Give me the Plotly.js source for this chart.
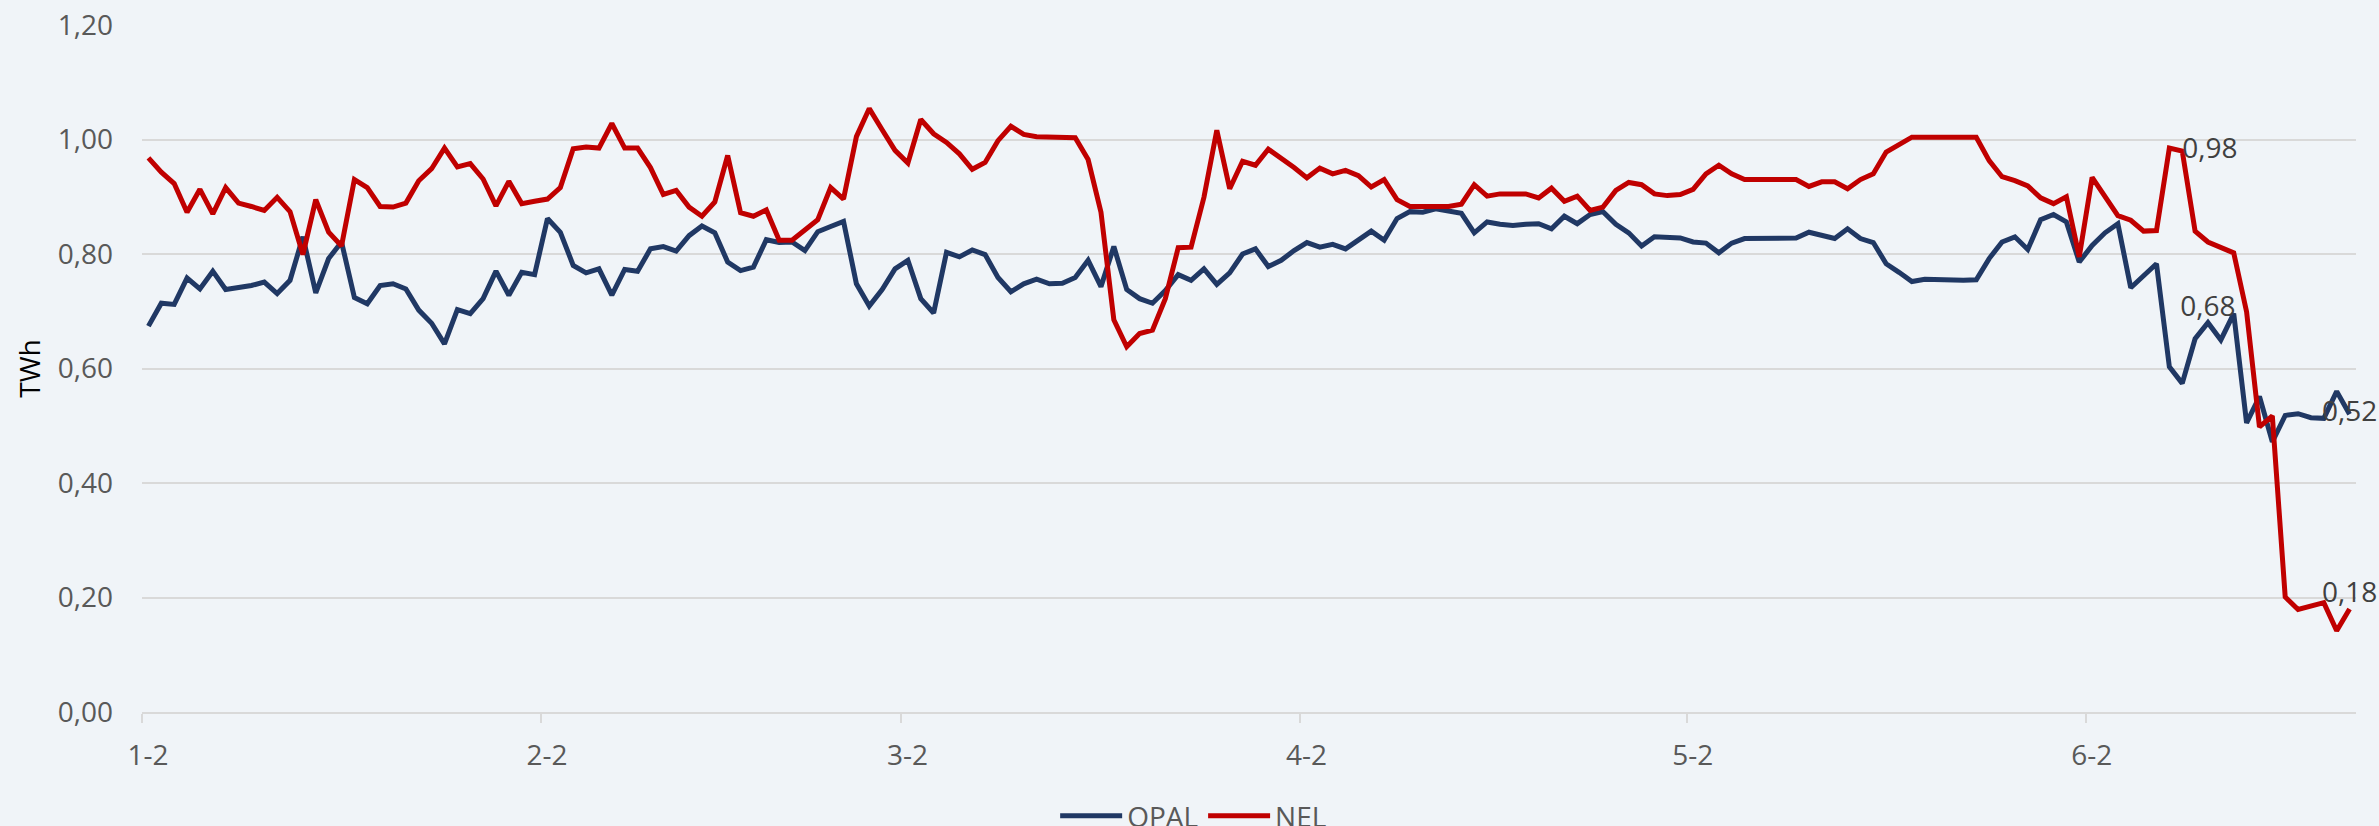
<!DOCTYPE html>
<html>
<head>
<meta charset="utf-8">
<script src="https://cdn.plot.ly/plotly-3.0.1.min.js"></script>
<style>
  html, body { margin: 0; padding: 0; background: #F0F4F8; }
  #chart { width: 2379px; height: 826px; }
</style>
</head>
<body>
<div id="chart"></div>
<script>
// ---- data (daily values, TWh) ----
const startDate = '2023-01-02';
const tickDates = ['2023-01-02', '2023-02-02', '2023-03-02', '2023-04-02', '2023-05-02', '2023-06-02'];
const tickLabels = ['1-2', '2-2', '3-2', '4-2', '5-2', '6-2'];
const seriesNames = ['OPAL', 'NEL'];

const OPAL = [
  0.674, 0.714, 0.712, 0.758, 0.739, 0.770, 0.738, 0.741, 0.745, 0.751,
  0.731, 0.754, 0.830, 0.732, 0.792, 0.821, 0.724, 0.713, 0.745, 0.748,
  0.739, 0.702, 0.679, 0.643, 0.703, 0.696, 0.722, 0.770, 0.728, 0.768,
  0.764, 0.862, 0.838, 0.780, 0.767, 0.774, 0.728, 0.773, 0.770, 0.809,
  0.813, 0.805, 0.832, 0.849, 0.837, 0.786, 0.771, 0.777, 0.825, 0.820,
  0.821, 0.806, 0.839, 0.848, 0.857, 0.748, 0.709, 0.738, 0.774, 0.789,
  0.722, 0.697, 0.803, 0.795, 0.807, 0.799, 0.759, 0.734, 0.748, 0.756,
  0.748, 0.749, 0.759, 0.789, 0.743, 0.813, 0.738, 0.722, 0.714, 0.736,
  0.764, 0.754, 0.774, 0.747, 0.767, 0.800, 0.809, 0.778, 0.789, 0.806,
  0.820, 0.812, 0.817, 0.809, 0.825, 0.840, 0.824, 0.862, 0.874, 0.873,
  0.879, 0.874, 0.871, 0.837, 0.856, 0.852, 0.850, 0.852, 0.853, 0.844,
  0.866, 0.853, 0.869, 0.874, 0.852, 0.837, 0.814, 0.830, 0.830, 0.828,
  0.821, 0.819, 0.802, 0.819, 0.827, 0.827, 0.827, 0.827, 0.828, 0.838,
  0.832, 0.827, 0.844, 0.827, 0.820, 0.783, 0.768, 0.752, 0.756, 0.755,
  0.754, 0.754, 0.755, 0.792, 0.821, 0.830, 0.808, 0.860, 0.869, 0.856,
  0.786, 0.815, 0.837, 0.853, 0.741, 0.763, 0.783, 0.603, 0.574, 0.652,
  0.680, 0.650, 0.696, 0.505, 0.551, 0.472, 0.518, 0.521, 0.514, 0.513,
  0.560, 0.520
];

const NEL = [
  0.968, 0.943, 0.923, 0.873, 0.913, 0.870, 0.916, 0.889, 0.883, 0.876,
  0.899, 0.874, 0.799, 0.895, 0.838, 0.814, 0.930, 0.916, 0.883, 0.882,
  0.889, 0.928, 0.949, 0.985, 0.952, 0.958, 0.931, 0.884, 0.927, 0.888,
  0.892, 0.896, 0.916, 0.984, 0.987, 0.985, 1.028, 0.985, 0.985, 0.951,
  0.904, 0.911, 0.882, 0.866, 0.891, 0.972, 0.872, 0.866, 0.877, 0.824,
  0.824, 0.841, 0.860, 0.916, 0.896, 1.005, 1.054, 1.017, 0.981, 0.959,
  1.035, 1.010, 0.995, 0.975, 0.948, 0.960, 0.998, 1.023, 1.009, 1.005,
  1.005, 1.005, 1.003, 0.965, 0.873, 0.685, 0.638, 0.661, 0.667, 0.722,
  0.811, 0.812, 0.899, 1.016, 0.914, 0.962, 0.955, 0.983, 0.968, 0.951,
  0.933, 0.950, 0.940, 0.946, 0.937, 0.917, 0.930, 0.895, 0.883, 0.883,
  0.883, 0.883, 0.887, 0.921, 0.901, 0.905, 0.905, 0.905, 0.898, 0.915,
  0.892, 0.901, 0.876, 0.882, 0.911, 0.925, 0.921, 0.905, 0.902, 0.904,
  0.913, 0.940, 0.955, 0.940, 0.930, 0.930, 0.932, 0.931, 0.930, 0.918,
  0.926, 0.926, 0.914, 0.930, 0.940, 0.978, 0.990, 1.004, 1.004, 1.004,
  1.004, 1.004, 1.004, 0.963, 0.935, 0.928, 0.919, 0.898, 0.888, 0.900,
  0.795, 0.934, 0.900, 0.867, 0.859, 0.840, 0.841, 0.985, 0.980, 0.840,
  0.821, 0.812, 0.802, 0.699, 0.498, 0.517, 0.201, 0.179, 0.185, 0.191,
  0.142, 0.180
];

// which points carry a data label
const labelIdxOPAL = [160, 171];
const labelIdxNEL = [158, 171];

// ---- build ----
const DAY = 86400000;
const t0 = new Date(startDate + 'T00:00:00Z').getTime();
const xDates = OPAL.map((_, i) => new Date(t0 + i * DAY).toISOString().slice(0, 10));
const tickVals = tickDates.map(d => new Date(d + 'T00:00:00Z').getTime() - DAY / 2);
const xRange = [t0 - DAY / 2, t0 + (OPAL.length - 1) * DAY + DAY / 2];

function fmt(v) { return v.toFixed(2).replace('.', ','); }
function labels(vals, idx) { return vals.map((v, i) => idx.includes(i) ? fmt(v) : ''); }
function positions(vals, idx, pos) { return vals.map((v, i) => { const k = idx.indexOf(i); return k >= 0 ? pos[k] : 'top center'; }); }

const FONT = 'Open Sans, Noto Sans, sans-serif';

const traces = [
  {
    x: xDates, y: OPAL, name: seriesNames[0], type: 'scatter', mode: 'lines+text',
    line: { color: '#203864', width: 5 },
    text: labels(OPAL, labelIdxOPAL),
    textposition: positions(OPAL, labelIdxOPAL, ['top center', 'middle center']),
    textfont: { family: FONT, size: 28, color: '#404040' },
    cliponaxis: false, hoverinfo: 'skip'
  },
  {
    x: xDates, y: NEL, name: seriesNames[1], type: 'scatter', mode: 'lines+text',
    line: { color: '#C00000', width: 5 },
    text: labels(NEL, labelIdxNEL),
    textposition: positions(NEL, labelIdxNEL, ['middle right', 'top center']),
    textfont: { family: FONT, size: 28, color: '#404040' },
    cliponaxis: false, hoverinfo: 'skip'
  }
];

const layout = {
  width: 2379, height: 826,
  paper_bgcolor: '#F0F4F8', plot_bgcolor: '#F0F4F8',
  separators: ', ',
  font: { family: FONT, size: 28, color: '#595959' },
  margin: { l: 142, r: 23, t: 25, b: 114, pad: 0, autoexpand: false },
  showlegend: true,
  legend: {
    orientation: 'h', xref: 'paper', x: 0.475, xanchor: 'center',
    yref: 'container', y: 0.012, yanchor: 'middle',
    font: { family: FONT, size: 28, color: '#595959' }, bgcolor: 'rgba(0,0,0,0)',
    itemwidth: 62
  },
  xaxis: {
    type: 'date', range: xRange, automargin: false,
    tickmode: 'array', tickvals: tickVals, ticktext: tickLabels,
    ticks: 'outside', ticklen: 9, tickwidth: 2, tickcolor: '#D9D9D9',
    showline: true, linecolor: '#D9D9D9', linewidth: 2,
    showgrid: false, zeroline: false,
    tickfont: { family: FONT, size: 28, color: '#595959' },
    ticklabelshift: 6, ticklabelstandoff: 8
  },
  yaxis: {
    range: [0, 1.2], tickmode: 'linear', tick0: 0, dtick: 0.2, tickformat: '.2f',
    automargin: false,
    showgrid: true, gridcolor: '#D9D9D9', gridwidth: 2,
    zeroline: false, showline: false, ticks: '',
    tickfont: { family: FONT, size: 28, color: '#595959' },
    ticklabelstandoff: 28,
    title: { text: 'TWh', font: { family: FONT, size: 28, color: '#000000' }, standoff: 8 }
  }
};

Plotly.newPlot('chart', traces, layout, { displayModeBar: false, staticPlot: true });
</script>
</body>
</html>
